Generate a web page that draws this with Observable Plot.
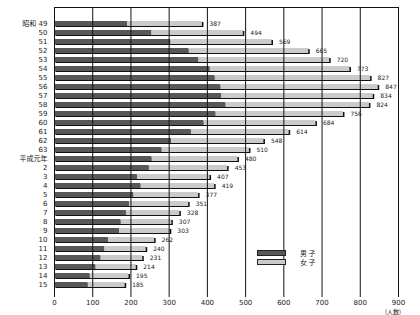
<!DOCTYPE html>
<html><head><meta charset="utf-8">
<script src="https://cdn.jsdelivr.net/npm/d3@7"></script>
<script src="https://cdn.jsdelivr.net/npm/@observablehq/plot@0.6"></script>
<style>
body{margin:0;background:#fff;font-family:"Noto Sans CJK JP","DejaVu Sans",sans-serif;}
#wrap{position:relative;width:420px;height:315px;}
.lg{position:absolute;font-size:7px;line-height:7px;color:#222;}
.sw{position:absolute;width:27px;height:4px;border:1px solid #222;}
</style></head>
<body><div id="wrap"></div>
<script>
const years = ["昭和 49","50","51","52","53","54","55","56","57","58","59","60","61","62","63","平成元年","2","3","4","5","6","7","8","9","10","11","12","13","14","15"];
const male = [191,254,304,352,377,407,420,435,437,448,422,391,358,306,281,255,248,217,226,207,196,188,174,170,141,131,121,108,93,88];
const female = [196,240,265,313,343,366,407,412,397,376,334,293,256,242,229,225,205,190,193,170,155,140,133,133,121,109,110,106,102,97];
const totals = [387,494,569,665,720,773,827,847,834,824,756,684,614,548,510,480,453,407,419,377,351,328,307,303,262,240,231,214,195,185];
const sexes = ["男子","女子"];
const colors = ["#585858","#cbcbcb"];

const rows = [];
years.forEach((y,i)=>{rows.push({year:y,sex:sexes[0],v:male[i]});rows.push({year:y,sex:sexes[1],v:female[i]});});
const tot = years.map((y,i)=>({year:y,t:totals[i]}));

const chart = Plot.plot({
  width:420,height:315,
  marginLeft:54,marginRight:22,marginTop:7,marginBottom:18,
  style:{fontFamily:"'DejaVu Sans','Noto Sans CJK JP',sans-serif",fontSize:"7px",color:"#222"},
  x:{domain:[0,900],ticks:d3.range(0,901,100),tickSize:0,tickPadding:3,label:null},
  y:{domain:years,range:[10.5,296.5],paddingInner:0.5,paddingOuter:0.25,tickSize:0,tickPadding:7,label:null},
  color:{domain:sexes,range:colors},
  marks:[
    Plot.barX(tot,{y:"year",x:"t",fill:"#111",dx:1.5,dy:1}),
    Plot.barX(rows,Plot.stackX({y:"year",x:"v",fill:"sex",order:sexes})),
    Plot.gridX({ticks:d3.range(0,901,100),stroke:"#111",strokeOpacity:1,strokeWidth:1}),
    Plot.frame({anchor:"top",stroke:"#111"}),
    Plot.text(tot,{y:"year",x:"t",text:d=>String(d.t),dx:7,textAnchor:"start",fontSize:6,fill:"#222"})
  ]
});
const wrap=document.getElementById("wrap");
wrap.appendChild(chart);
function add(html,style,cls){const d=document.createElement("div");d.className=cls;d.innerHTML=html;Object.assign(d.style,style);wrap.appendChild(d);}
add("",{left:"257px",top:"250px",background:colors[0]},"sw");
add("",{left:"257px",top:"259px",background:colors[1]},"sw");
add("男 子",{left:"300px",top:"250px"},"lg");
add("女 子",{left:"300px",top:"259px"},"lg");
add("(人数)",{left:"385px",top:"309px",fontSize:"6px",lineHeight:"6px"},"lg");
</script></body></html>
